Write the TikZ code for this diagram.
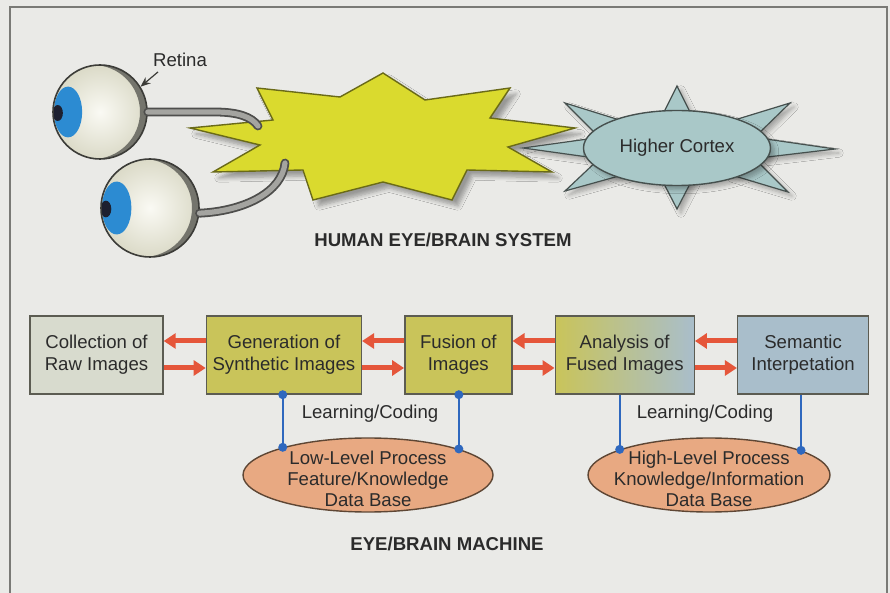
\documentclass[tikz,border=0pt]{standalone}
\usepackage{fontspec}
\setmainfont{Liberation Sans}
\usetikzlibrary{arrows.meta,shapes.geometric,shadows.blur,positioning,calc}

\definecolor{paper}{HTML}{EAEAE7}
\definecolor{frameline}{HTML}{7A7A76}
\definecolor{ink}{HTML}{2B2B2B}
\definecolor{starfill}{HTML}{DADA2E}
\definecolor{starline}{HTML}{6A6A18}
\definecolor{cortexfill}{HTML}{A9C8C8}
\definecolor{cortexline}{HTML}{46504E}
\definecolor{rawfill}{HTML}{D8DBCE}
\definecolor{olive}{HTML}{C9C45A}
\definecolor{bluegray}{HTML}{A9BECB}
\definecolor{boxline}{HTML}{5C5C52}
\definecolor{flowred}{HTML}{E5563A}
\definecolor{linkblue}{HTML}{2F68BE}
\definecolor{dbfill}{HTML}{E8A982}
\definecolor{dbline}{HTML}{5E4634}
\definecolor{eyewhite}{HTML}{EEEDD9}
\definecolor{eyeline}{HTML}{3C3C38}
\definecolor{rimgray}{HTML}{74746C}
\definecolor{irisblue}{HTML}{2C8BD2}
\definecolor{pupil}{HTML}{1D2030}
\definecolor{nervedark}{HTML}{4E4E4C}
\definecolor{nervelight}{HTML}{A4A4A0}

\tikzset{
  box/.style={draw=boxline, line width=0.7pt, minimum height=39pt, inner sep=0pt, align=center},
  flow/.style={draw=flowred, line width=2.5pt, -{Triangle[length=6pt,width=7.5pt]}},
  link/.style={draw=linkblue, line width=1.1pt},
  dot/.style={circle, fill=linkblue, inner sep=0pt, minimum size=4.5pt},
  database/.style={ellipse, draw=dbline, fill=dbfill, line width=0.7pt, inner sep=0pt, minimum height=37pt},
  title/.style={font=\fontsize{9.3}{11}\selectfont\bfseries},
  nerve/.style={draw=nervedark, double=nervelight, double distance=2.6pt, line width=0.9pt, line cap=round},
  spike/.style={fill=cortexfill, draw=cortexline, line width=0.6pt,
    blur shadow={shadow xshift=2pt, shadow yshift=-2pt, shadow blur steps=6, shadow opacity=30}},
  eyeball/.style={circle, draw=eyeline, line width=0.8pt, minimum size=#1, inner sep=0pt,
    inner color=eyewhite!30!white, outer color=eyewhite!92!black,
    path picture={
      \coordinate (c) at (path picture bounding box.center);
      \fill[rimgray, even odd rule] (c) circle (#1/2) ([xshift=-3.5pt]c) circle (#1/2);
      \fill[irisblue] ([xshift=-0.34*#1]c) ellipse (0.15*#1 and 0.27*#1);
      \fill[pupil] ([xshift=-0.45*#1,yshift=-0.5pt]c) ellipse (0.055*#1 and 0.085*#1);
    }},
}

\begin{document}
\begin{tikzpicture}[x=0.5pt, y=-0.5pt, font=\fontsize{9.3}{11}\selectfont, text=ink]
  \useasboundingbox (0,0) rectangle (890,593);
  \fill[paper] (0,0) rectangle (890,593);
  \draw[frameline, line width=0.8pt] (10,7) rectangle (887,620);

  % star shaped brain
  \filldraw[fill=starfill, draw=starline, line width=0.7pt, line join=miter,
    blur shadow={shadow xshift=3pt, shadow yshift=-3pt, shadow blur steps=6, shadow opacity=35}]
    (383,73) -- (425,100) -- (510,88) -- (490,118) -- (575,128) -- (508,147)
    -- (552,172) -- (467,170) -- (452,200) -- (383,182) -- (313,200) -- (303,170)
    -- (213,172) -- (260,145) -- (190,128) -- (273,120) -- (257,88) -- (340,97) -- cycle;

  % spikes round the cortex
  \filldraw[spike] (661,118) -- (677,86) -- (693,118) -- cycle;
  \filldraw[spike] (661,178) -- (677,209) -- (693,178) -- cycle;
  \filldraw[spike] (595,138) -- (523,148) -- (595,158) -- cycle;
  \filldraw[spike] (759,138) -- (835,149) -- (759,158) -- cycle;
  \filldraw[spike] (626,122) -- (565,103) -- (600,138) -- cycle;
  \filldraw[spike] (728,122) -- (790,103) -- (754,138) -- cycle;
  \filldraw[spike] (600,158) -- (565,191) -- (626,174) -- cycle;
  \filldraw[spike] (754,158) -- (788,192) -- (728,174) -- cycle;
  \node[ellipse, fill=cortexfill, draw=cortexline, line width=0.7pt, inner sep=0pt,
    minimum width=93.5pt, minimum height=37.5pt,
    blur shadow={shadow xshift=2pt, shadow yshift=-2pt, shadow blur steps=6, shadow opacity=30}]
    (cortex) at (677,148) {Higher Cortex};

  % eyes
  \node[eyeball=47pt] (eyeA) at (100,112) {};
  \node[eyeball=49pt] (eyeB) at (150,208) {};
  \coordinate (nerveA) at (258,126);
  \coordinate (nerveB) at (285,163);
  \draw[nerve] (eyeA.east) -- (215,112) .. controls (238,112) and (252,117) .. (nerveA);
  \draw[nerve] (eyeB.-6) .. controls (245,211) and (282,192) .. (nerveB);

  \node (retina) at (180,60) {Retina};
  \draw[eyeline, line width=0.6pt, -{Stealth[length=5pt,width=4pt]}] ([xshift=6pt,yshift=1pt]retina.south west) -- (eyeA.32);

  \node[title] (human) at (443,240) {HUMAN EYE/BRAIN SYSTEM};

  % machine chain
  \node[box, fill=rawfill, minimum width=66.5pt] (col) at (96.5,355) {Collection of\\Raw Images};
  \node[box, fill=olive, minimum width=77.5pt, right=21pt of col] (gen) {Generation of\\Synthetic Images};
  \node[box, fill=olive, minimum width=53.5pt, right=21pt of gen] (fus) {Fusion of\\Images};
  \node[box, left color=olive, right color=bluegray, middle color=olive!50!bluegray,
    minimum width=69.5pt, right=21pt of fus] (ana) {Analysis of\\Fused Images};
  \node[box, fill=bluegray, minimum width=65.5pt, right=21pt of ana] (sem) {Semantic\\Interpetation};

  \foreach \a/\b in {col/gen, gen/fus, fus/ana, ana/sem} {
    \draw[flow] ([yshift=7pt]\b.west) -- ([yshift=7pt]\a.east);
    \draw[flow] ([yshift=-6.5pt]\a.east) -- ([yshift=-6.5pt]\b.west);
  }

  % knowledge bases
  \node[database, minimum width=125pt] (low) at (368,475) {};
  \node[align=center, font=\fontsize{9.3}{10.5}\selectfont] at ([yshift=-2pt]low.center)
    {Low-Level Process\\Feature/Knowledge\\Data Base};
  \node[database, minimum width=121pt] (high) at (709,475) {};
  \node[align=center, font=\fontsize{9.3}{10.5}\selectfont] at ([yshift=-2pt]high.center)
    {High-Level Process\\Knowledge/Information\\Data Base};

  \draw[link] (gen.south -| low.162) node[dot] {} -- (low.162) node[dot] {};
  \draw[link] (fus.south -| low.16) node[dot] {} -- (low.16) node[dot] {};
  \draw[link] (ana.south -| high.164) -- (high.164) node[dot] {};
  \draw[link] (sem.south -| high.15) -- (high.15) node[dot] {};

  \node (learnlow) at (370,414) {Learning/Coding};
  \node (learnhigh) at (705,414) {Learning/Coding};

  \node[title] (machine) at (447,544) {EYE/BRAIN MACHINE};
\end{tikzpicture}
\end{document}
